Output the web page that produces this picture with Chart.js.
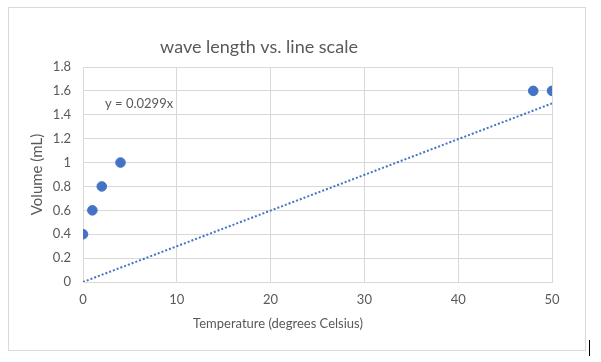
<!DOCTYPE html>
<html>
<head>
<meta charset="utf-8">
<script src="https://cdn.jsdelivr.net/npm/chart.js@4"></script>
<style>
  body { margin: 0; background: #fff; width: 601px; height: 362px; position: relative; overflow: hidden; }
  #box { position: absolute; left: 8px; top: 7px; width: 576px; height: 342px; border: 1px solid #d9d9d9; background: #fff; }
  #cursor { position: absolute; left: 589px; top: 340px; width: 1px; height: 16px; background: #000; }
</style>
</head>
<body>
<div id="box"><canvas id="myChart" width="576" height="342"></canvas></div>
<div id="cursor"></div>
<script>
// Measured values (temperature vs volume)
const temps = [0, 1, 2, 4, 48, 50];
const volumes = [0.4, 0.6, 0.8, 1.0, 1.6, 1.6];

// Trendline ends, y = 0.0299x
const trendX = [0, 50];
const trendY = [0, 1.495];
const trendLabel = 'y = 0.0299x';

const xTicks = [0, 10, 20, 30, 40, 50];
const yTicks = [0, 0.2, 0.4, 0.6, 0.8, 1, 1.2, 1.4, 1.6, 1.8];

const chartTitle = 'wave length vs. line scale';
const xTitle = 'Temperature (degrees Celsius)';

const blue = '#4472C4';
const grey = '#595959';
const font = 'Lato, "Liberation Sans", sans-serif';

// title, x axis title and the trendline equation (Excel puts them off-centre)
const textBits = {
    id: 'textBits',
    afterDraw(chart) {
        const ctx = chart.ctx;
        const y = chart.scales.y;
        ctx.save();
        ctx.fillStyle = grey;
        ctx.textBaseline = 'middle';

        ctx.font = '13px ' + font;
        ctx.textAlign = 'left';
        ctx.fillText(trendLabel, chart.chartArea.left + 22, y.getPixelForValue(1.5) + 1);

        ctx.textAlign = 'center';
        ctx.font = '18px ' + font;
        ctx.fillText(chartTitle, 250, 39);

        ctx.font = '13px ' + font;
        ctx.fillText(xTitle, 269, 316);
        ctx.restore();
    }
};

var ctx = document.getElementById('myChart').getContext('2d');

var myChart = new Chart(ctx, {
    type: 'scatter',
    data: {
        datasets: [{
            data: temps.map((t, i) => ({ x: t, y: volumes[i] })),
            backgroundColor: blue,
            borderColor: blue,
            pointRadius: 4.8,
            pointHoverRadius: 4.8
        },
        {
            data: trendX.map((t, i) => ({ x: t, y: trendY[i] })),
            showLine: true,
            borderColor: blue,
            borderWidth: 2,
            borderDash: [2, 2],
            pointRadius: 0
        }]
    },
    options: {
        responsive: false,
        animation: false,
        layout: {
            padding: { left: 0, right: 33, top: 59, bottom: 0 }
        },
        plugins: {
            legend: { display: false },
            tooltip: { enabled: false },
            title: { display: false }
        },
        scales: {
            x: {
                type: 'linear',
                min: 0,
                max: 50,
                afterBuildTicks: (s) => { s.ticks = xTicks.map(v => ({ value: v })); },
                afterFit: (s) => { s.height = 68; },
                grid: { color: '#d9d9d9', drawTicks: false },
                border: { color: '#d9d9d9' },
                ticks: { color: grey, padding: 10, font: { family: font, size: 13 } }
            },
            y: {
                min: 0,
                max: 1.8,
                afterBuildTicks: (s) => { s.ticks = yTicks.map(v => ({ value: v })); },
                afterFit: (s) => { s.width = 74; },
                grid: { color: '#d9d9d9', drawTicks: false },
                border: { color: '#d9d9d9' },
                ticks: {
                    color: grey,
                    padding: 12,
                    font: { family: font, size: 13 },
                    callback: (v) => String(v)
                },
                title: {
                    display: true,
                    text: 'Volume (mL)',
                    color: grey,
                    font: { family: font, size: 15 },
                    padding: { top: 19, bottom: 4 }
                }
            }
        }
    },
    plugins: [textBits]
});
</script>
</body>
</html>
